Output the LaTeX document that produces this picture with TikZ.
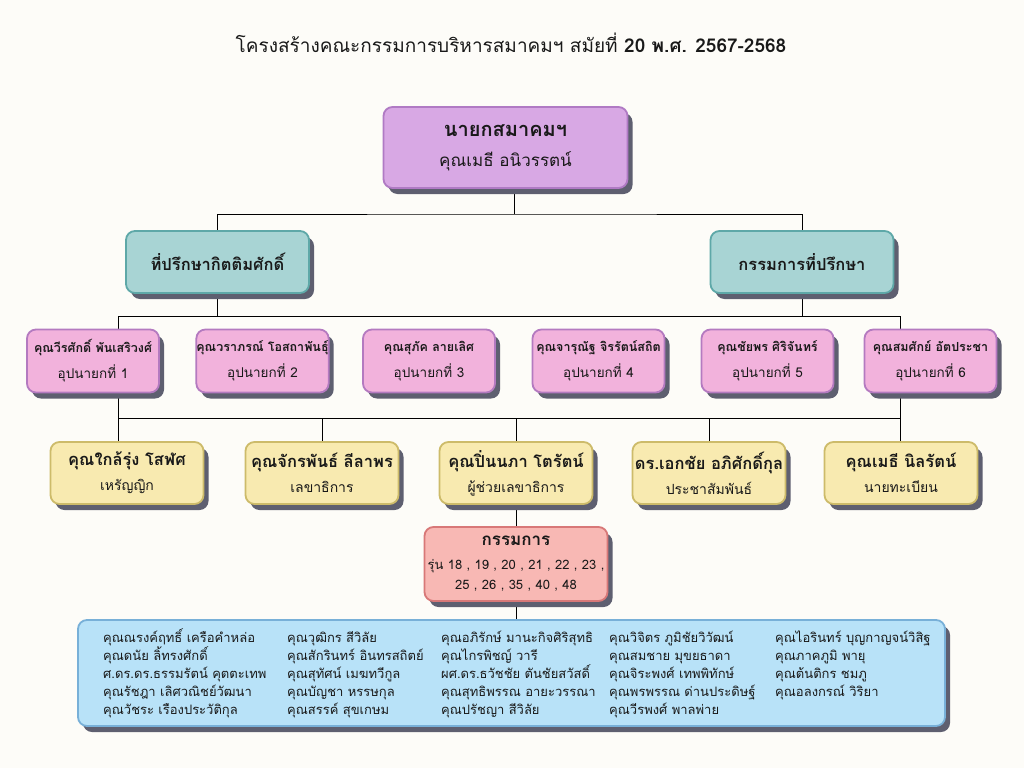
\documentclass[tikz,border=0pt]{standalone}
\usepackage{fontspec}
\setmainfont[Script=Thai]{Loma}
\usetikzlibrary{shadows,backgrounds}

\definecolor{paper}{HTML}{FDFCF8}
\definecolor{shadowgrey}{HTML}{5E5F70}
\definecolor{presfill}{HTML}{D8A8E4}
\definecolor{presline}{HTML}{B07AC4}
\definecolor{advfill}{HTML}{A8D4D4}
\definecolor{advline}{HTML}{5EA8A8}
\definecolor{vpfill}{HTML}{F2B2DC}
\definecolor{vpline}{HTML}{B47AC0}
\definecolor{offfill}{HTML}{F8EAB0}
\definecolor{offline}{HTML}{CDBB6A}
\definecolor{commfill}{HTML}{F8B8B4}
\definecolor{commline}{HTML}{D87878}
\definecolor{memfill}{HTML}{B8E2F8}
\definecolor{memline}{HTML}{78B0D8}

\tikzset{
  card/.style={line width=1.8pt, rounded corners=9pt, align=center, inner sep=0pt,
    text=black!90,
    drop shadow={shadow xshift=5pt, shadow yshift=-6pt, fill=shadowgrey, opacity=1}},
  presbox/.style={card, fill=presfill, draw=presline, minimum width=244pt, minimum height=81pt,
    font=\fontsize{17}{20}\selectfont},
  advbox/.style={card, fill=advfill, draw=advline, minimum width=183pt, minimum height=62pt,
    font=\bfseries\fontsize{16.5}{19}\selectfont},
  vpbox/.style={card, fill=vpfill, draw=vpline, minimum width=132pt, minimum height=63pt,
    font=\fontsize{13.5}{16}\selectfont},
  offbox/.style={card, fill=offfill, draw=offline, minimum width=153pt, minimum height=62pt,
    font=\fontsize{14}{17}\selectfont},
  commbox/.style={card, fill=commfill, draw=commline, minimum width=183pt, minimum height=74pt,
    font=\fontsize{13}{20}\selectfont},
  membox/.style={card, fill=memfill, draw=memline, minimum width=867pt, minimum height=106pt},
  memtext/.style={align=left, inner sep=0pt, anchor=base west, text=black!90,
    font=\fontsize{13}{18}\selectfont},
  link/.style={line width=0.8pt, black}
}

\begin{document}
\begin{tikzpicture}[x=1pt,y=-1pt]

\useasboundingbox (0,0) rectangle (1024,768);

%% title
\node[text=black!90, font=\fontsize{19}{22}\selectfont] (title) at (511,43)
  {โครงสร้างคณะกรรมการบริหารสมาคมฯ สมัยที่ \textbf{20 พ.ศ. 2567-2568}};

%% president
\node[presbox] (pres) at (505.5,147.5)
  {{\bfseries\fontsize{20}{24}\selectfont นายกสมาคมฯ}\\[10pt]คุณเมธี อนิวรรตน์};

%% advisors
\node[advbox] (advL) at (217.5,262) {ที่ปรึกษากิตติมศักดิ์};
\node[advbox] (advR) at (802,262)   {กรรมการที่ปรึกษา};

%% vice presidents
\node[vpbox] (vp1) at (93,361)    {{\bfseries\fontsize{12.5}{15}\selectfont คุณวีรศักดิ์ พันเสริวงศ์}\\[8pt]อุปนายกที่ 1};
\node[vpbox] (vp2) at (262.5,361) {{\bfseries\fontsize{12.5}{15}\selectfont คุณวราภรณ์ โอสถาพันธุ์}\\[8pt]อุปนายกที่ 2};
\node[vpbox] (vp3) at (429,361)   {{\bfseries\fontsize{12.5}{15}\selectfont คุณสุภัค ลายเลิศ}\\[8pt]อุปนายกที่ 3};
\node[vpbox] (vp4) at (598.5,361) {{\bfseries\fontsize{12.5}{15}\selectfont คุณจารุณัฐ จิรรัตน์สถิต}\\[8pt]อุปนายกที่ 4};
\node[vpbox] (vp5) at (767.5,361) {{\bfseries\fontsize{12.5}{15}\selectfont คุณชัยพร ศิริจันทร์}\\[8pt]อุปนายกที่ 5};
\node[vpbox] (vp6) at (930.5,361) {{\bfseries\fontsize{12.5}{15}\selectfont คุณสมศักย์ อัตประชา}\\[8pt]อุปนายกที่ 6};

%% officers
\node[offbox] (off1) at (127,473) {{\bfseries\fontsize{16.5}{19}\selectfont คุณใกล้รุ่ง โสฬศ}\\[8pt]เหรัญญิก};
\node[offbox] (off2) at (322,473) {{\bfseries\fontsize{16.5}{19}\selectfont คุณจักรพันธ์ ลีลาพร}\\[8pt]เลขาธิการ};
\node[offbox] (off3) at (516,473) {{\bfseries\fontsize{16.5}{19}\selectfont คุณปิ่นนภา โตรัตน์}\\[8pt]ผู้ช่วยเลขาธิการ};
\node[offbox] (off4) at (709,473) {{\bfseries\fontsize{16.5}{19}\selectfont ดร.เอกชัย อภิศักดิ์กุล}\\[8pt]ประชาสัมพันธ์};
\node[offbox] (off5) at (901,473) {{\bfseries\fontsize{16.5}{19}\selectfont คุณเมธี นิลรัตน์}\\[8pt]นายทะเบียน};

%% committee
\node[commbox] (comm) at (516,564)
  {{\bfseries\fontsize{17}{20}\selectfont กรรมการ}\\[4pt]รุ่น 18 , 19 , 20 , 21 , 22 , 23 ,\\25 , 26 , 35 , 40 , 48};

%% members
\node[membox] (mem) at (511.5,673) {};
\node[memtext] (colA) at (103,714) {คุณณรงค์ฤทธิ์ เครือคำหล่อ\\คุณดนัย ลิ้ทรงศักดิ์\\ศ.ดร.ดร.ธรรมรัตน์ คุตตะเทพ\\คุณรัชฎา เลิศวณิชย์วัฒนา\\คุณวัชระ เรืองประวัติกุล};
\node[memtext] (colB) at (287,714) {คุณวุฒิกร สีวิลัย\\คุณสักรินทร์ อินทรสถิตย์\\คุณสุทัศน์ เมฆทวีกูล\\คุณบัญชา หรรษกุล\\คุณสรรค์ สุขเกษม};
\node[memtext] (colC) at (441,714) {คุณอภิรักษ์ มานะกิจศิริสุทธิ\\คุณไกรพิชญ์ วารี\\ผศ.ดร.ธวัชชัย ตันชัยสวัสดิ์\\คุณสุทธิพรรณ อายะวรรณา\\คุณปรัชญา สีวิลัย};
\node[memtext] (colD) at (609,714) {คุณวิจิตร ภูมิชัยวิวัฒน์\\คุณสมชาย มุขยธาดา\\คุณจิระพงศ์ เทพพิทักษ์\\คุณพรพรรณ ด่านประดิษฐ์\\คุณวีรพงศ์ พาลพ่าย};
\node[memtext] (colE) at (775,696) {คุณไอรินทร์ บุญกาญจน์วิสิฐ\\คุณภาคภูมิ พายุ\\คุณต้นติกร ชมภู\\คุณอลงกรณ์ วิริยา};

%% bus points
\coordinate (busA)  at (514,214);
\coordinate (busBl) at (118,316);
\coordinate (busBr) at (900,316);
\coordinate (busCl) at (118,418);
\coordinate (busCr) at (900,418);

%% paper and connectors
\begin{pgfonlayer}{background}
\fill[paper] (0,0) rectangle (1024,768);
\draw[link] (busA |- pres.south) -- (busA);
\draw[link] (advL.north) |- (busA) -| (advR.north);
\draw[link] (advL.south) -- (advL.south |- busBl);
\draw[link] (advR.south) -- (advR.south |- busBr);
\draw[link] (busBl |- vp1.north) -- (busBl) -- (busBr) -- (busBr |- vp6.north);
\draw[link] (busCl |- vp1.south) -- (busCl) -- (busCr) -- (busCr |- vp6.south);
\draw[link] (busCl) -- (busCl |- off1.north);
\foreach \o in {off2,off3,off4}
  \draw[link] (\o.north) -- (\o.north |- busCl);
\draw[link] (busCr) -- (busCr |- off5.north);
\draw[link] (off3.south) -- (comm.north);
\draw[link] (comm.south) -- (comm.south |- mem.north);
\end{pgfonlayer}

\end{tikzpicture}
\end{document}
